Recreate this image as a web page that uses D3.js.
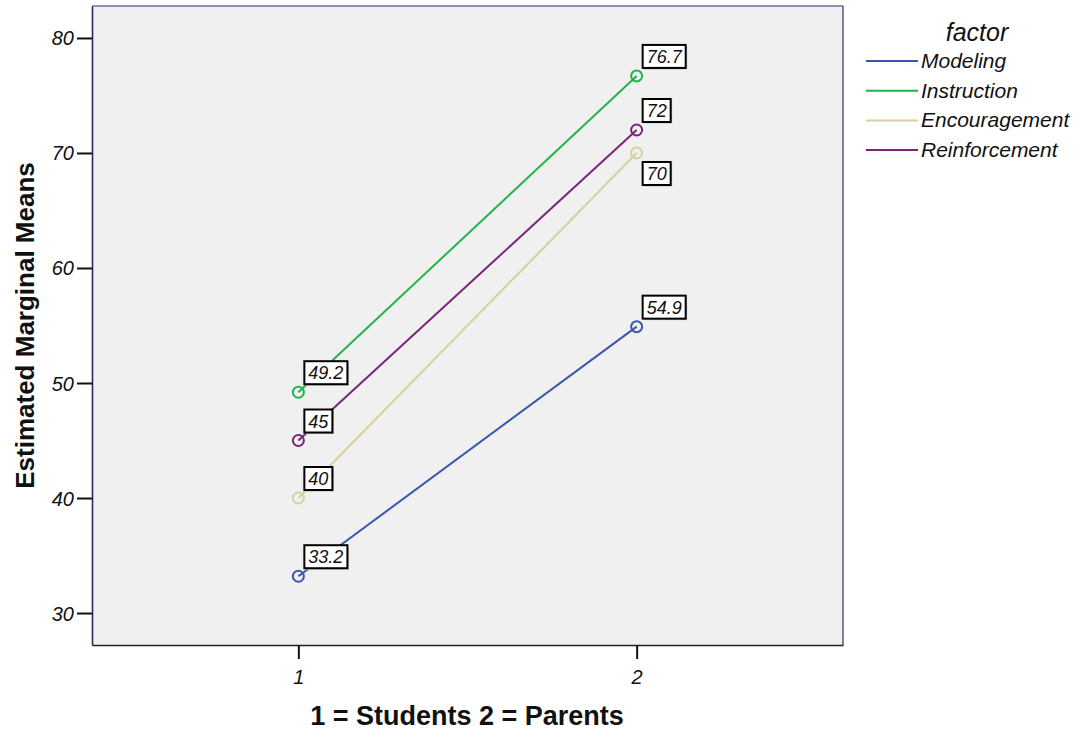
<!DOCTYPE html>
<html><head><meta charset="utf-8">
<script src="https://cdn.jsdelivr.net/npm/d3@7"></script>
<style>body{margin:0;background:#fff;}text{font-family:Arial,"Liberation Sans",sans-serif;}</style>
</head><body>
<svg id="c" width="1077" height="733"></svg>
<script>
const groups = [1, 2];
const seriesNames = ["Modeling", "Instruction", "Encouragement", "Reinforcement"];
const modeling = [33.2, 54.9];
const instruction = [49.2, 76.7];
const encouragement = [40, 70];
const reinforcement = [45, 72];
const labelsModeling = ["33.2", "54.9"];
const labelsInstruction = ["49.2", "76.7"];
const labelsEncouragement = ["40", "70"];
const labelsReinforcement = ["45", "72"];
const yTicks = [30, 40, 50, 60, 70, 80];
const xTicks = [1, 2];
const colors = ["#3c56ad", "#24b34b", "#d6d09f", "#7a2479"];

const series = [
  {name: seriesNames[0], values: modeling, labels: labelsModeling, color: colors[0], below: [false, false]},
  {name: seriesNames[1], values: instruction, labels: labelsInstruction, color: colors[1], below: [false, false]},
  {name: seriesNames[2], values: encouragement, labels: labelsEncouragement, color: colors[2], below: [false, true]},
  {name: seriesNames[3], values: reinforcement, labels: labelsReinforcement, color: colors[3], below: [false, false]}
];

const svg = d3.select("#c");
const L = 92, R = 843, T = 6, B = 645;
const x = d3.scaleLinear().domain([0.39, 2.61]).range([L, R]);
const y = d3.scaleLinear().domain([27.22, 82.78]).range([B, T]);

svg.append("rect").attr("x", L).attr("y", T).attr("width", R - L).attr("height", B - T)
  .attr("fill", "#f0f0f0");
svg.append("path").attr("d", `M${L},${T}H${R}V${B}`).attr("fill", "none").attr("stroke", "#2c2c78").attr("stroke-width", 1.2);

const yAxis = svg.append("g").attr("transform", `translate(${L},0)`)
  .call(d3.axisLeft(y).tickValues(yTicks).tickFormat(d3.format("d")).tickSize(15).tickSizeOuter(0).tickPadding(3));
const xAxis = svg.append("g").attr("transform", `translate(0,${B})`)
  .call(d3.axisBottom(x).tickValues(xTicks).tickFormat(d3.format("d")).tickSize(14).tickSizeOuter(0).tickPadding(6));
[yAxis, xAxis].forEach(a => {
  a.attr("font-size", null).attr("font-family", null);
  a.select(".domain").attr("stroke", "#222").attr("stroke-width", 1.6);
  a.selectAll(".tick line").attr("stroke", "#111").attr("stroke-width", 2);
  a.selectAll(".tick text").style("font-size", "20px").style("font-style", "italic")
    .style("font-family", "Arial, 'Liberation Sans', sans-serif").attr("fill", "#111");
});
yAxis.select(".domain").attr("stroke", "#2c2c55");
yAxis.selectAll(".tick text").attr("dy", "0.35em");
xAxis.selectAll(".tick text").attr("dy", "0.95em");

const line = d3.line().x((d, i) => x(groups[i])).y(d => y(d));
series.forEach(s => {
  svg.append("path").attr("d", line(s.values)).attr("fill", "none")
    .attr("stroke", s.color).attr("stroke-width", 2);
});
series.forEach(s => {
  s.values.forEach((v, i) => {
    svg.append("circle").attr("cx", x(groups[i])).attr("cy", y(v)).attr("r", 5.5)
      .attr("fill", "none").attr("stroke", s.color).attr("stroke-width", 2);
  });
});

const labelLayer = svg.append("g");
series.forEach(s => {
  s.values.forEach((v, i) => {
    const px = x(groups[i]), py = y(v);
    const g = labelLayer.append("g");
    const shadow = g.append("rect");
    const box = g.append("rect");
    const t = g.append("text").style("font-size", "18px").style("font-style", "italic").attr("fill", "#111")
      .text(s.labels[i]);
    const w = t.node().getComputedTextLength();
    const bw = w + 8, bh = 23;
    const bx = px + 6;
    const by = s.below[i] ? py + 9 : py - 8 - bh;
    shadow.attr("x", bx + 1.5).attr("y", by + 1.5).attr("width", bw).attr("height", bh).attr("fill", "#bbb");
    box.attr("x", bx).attr("y", by).attr("width", bw).attr("height", bh)
      .attr("fill", "#fff").attr("stroke", "#000").attr("stroke-width", 2);
    t.attr("x", bx + 4).attr("y", by + bh / 2 + 6.5);
  });
});

svg.append("text").attr("transform", `translate(34,${(T + B) / 2}) rotate(-90)`)
  .attr("text-anchor", "middle").style("font-size", "26px").attr("font-weight", "bold").attr("fill", "#111")
  .text("Estimated Marginal Means");
svg.append("text").attr("x", 467).attr("y", 725).attr("text-anchor", "middle")
  .style("font-size", "27px").attr("font-weight", "bold").attr("fill", "#111")
  .text("1 = Students 2 = Parents");

svg.append("text").attr("x", 977).attr("y", 41).attr("text-anchor", "middle")
  .style("font-size", "25px").style("font-style", "italic").attr("fill", "#111").text("factor");
series.forEach((s, i) => {
  const ly = 61 + i * 29.7;
  svg.append("line").attr("x1", 866).attr("x2", 918).attr("y1", ly).attr("y2", ly)
    .attr("stroke", s.color).attr("stroke-width", 2);
  svg.append("text").attr("x", 921).attr("y", ly + 7).style("font-size", "21px")
    .style("font-style", "italic").attr("fill", "#111").text(s.name);
});
</script>
</body></html>
